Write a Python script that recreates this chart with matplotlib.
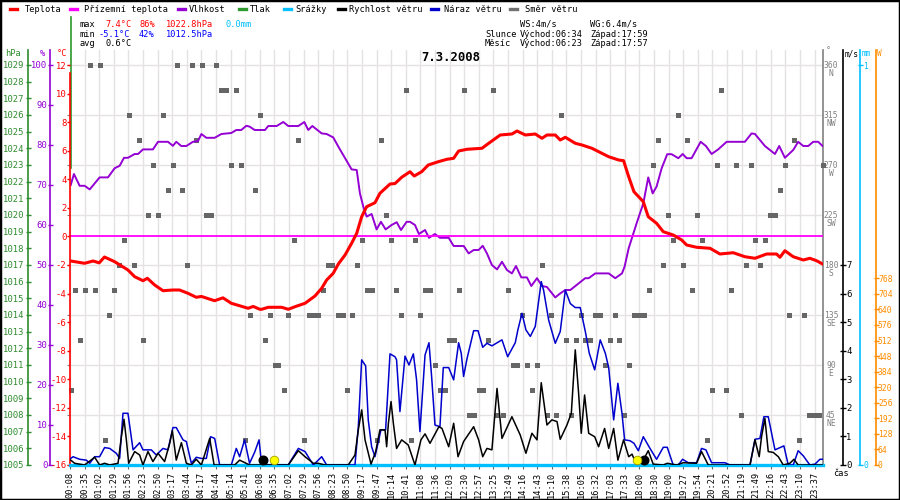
import matplotlib.pyplot as plt
from matplotlib.lines import Line2D
from matplotlib.patches import Rectangle

plt.rcParams['font.family'] = ['DejaVu Sans Mono']

# ===========================================================
# Data (x = position in label slots, 0 = first label 00:08)
# ===========================================================

time_labels = ['00:08', '00:35', '01:02', '01:29', '01:56', '02:23', '02:50', '03:17',
               '03:44', '04:17', '04:44', '05:14', '05:41', '06:08', '06:35', '07:02',
               '07:29', '07:56', '08:23', '08:50', '09:17', '09:47', '10:14', '10:41',
               '11:08', '11:36', '12:03', '12:30', '12:57', '13:25', '13:49', '14:16',
               '14:43', '15:10', '15:38', '16:05', '16:32', '17:03', '17:33', '18:00',
               '18:30', '19:00', '19:27', '19:54', '20:21', '20:52', '21:19', '21:49',
               '22:16', '22:43', '23:10', '23:37']

temp_x = [0.05, 1.0, 1.58, 2.0, 2.36, 3.06, 3.97, 4.43, 5.0, 5.3, 5.8, 6.37, 7.05, 7.5,
          8.08, 8.65, 9.0, 9.9, 10.48, 11.05, 12.2, 12.55, 13.0, 13.13, 13.58, 14.5, 14.95,
          15.41, 16.1, 16.78, 17.24, 17.58, 18.03, 18.38, 18.84, 19.29, 19.64, 19.98, 20.32,
          20.89, 21.23, 21.92, 22.26, 22.72, 23.29, 23.58, 24.09, 24.54, 25.23, 25.82, 26.28,
          26.62, 27.19, 28.22, 28.68, 29.47, 30.27, 30.62, 31.19, 31.87, 32.33, 32.67, 33.24,
          33.58, 33.93, 34.61, 35.07, 35.75, 36.9, 37.58, 37.92, 38.27, 38.63, 39.27, 39.61,
          40.18, 40.64, 41.32, 41.9, 42.24, 42.92, 43.84, 44.52, 45.43, 46.23, 46.92, 47.72,
          48.4, 48.63, 48.97, 49.54, 50.23, 50.68, 51.14, 51.55]
temp_c = [-1.72, -1.88, -1.72, -1.85, -1.44, -1.77, -2.35, -2.82, -3.1, -2.93, -3.4, -3.8,
          -3.75, -3.75, -3.98, -4.26, -4.2, -4.5, -4.3, -4.68, -5.03, -4.9, -5.1, -5.1, -4.96,
          -4.96, -5.1, -4.92, -4.68, -4.17, -3.63, -3.05, -2.58, -1.93, -1.3, -0.48, 0.22,
          1.38, 2.08, 2.36, 3.02, 3.67, 3.7, 4.14, 4.53, 4.23, 4.53, 5.0, 5.23, 5.4, 5.47,
          5.98, 6.1, 6.17, 6.52, 7.1, 7.17, 7.38, 7.1, 7.17, 6.87, 7.1, 7.1, 6.75, 6.94, 6.52,
          6.4, 6.17, 5.58, 5.35, 5.3, 4.18, 3.13, 2.43, 1.38, 0.92, 0.33, 0.1, -0.25, -0.6,
          -0.76, -0.83, -1.23, -1.14, -1.42, -1.53, -1.23, -1.23, -1.46, -1.0, -1.42, -1.65,
          -1.53, -1.7, -1.93]

ground_x = [0.0, 51.58]
ground_c = [0.0, 0.0]

hum_x = [0.05, 0.27, 0.66, 1.0, 1.35, 2.03, 2.6, 3.06, 3.4, 3.7, 3.97, 4.43, 4.66, 5.0, 5.68,
         6.03, 6.71, 7.05, 7.28, 7.62, 7.97, 8.42, 8.77, 9.0, 9.34, 9.91, 10.37, 11.05, 11.39,
         11.73, 12.08, 12.3, 12.65, 13.36, 13.58, 14.16, 14.61, 14.95, 15.64, 16.05, 16.32,
         16.6, 17.24, 17.58, 18.03, 18.38, 18.84, 19.29, 19.64, 19.86, 20.09, 20.32, 20.66,
         21.0, 21.3, 21.62, 22.03, 22.38, 22.67, 23.06, 23.29, 23.63, 23.9, 24.32, 24.59, 25.0,
         25.34, 25.94, 26.28, 26.97, 27.31, 27.65, 27.99, 28.27, 28.56, 28.9, 29.25, 29.59,
         29.93, 30.27, 30.55, 30.91, 31.3, 31.6, 31.99, 32.33, 32.67, 33.24, 33.58, 33.93,
         34.27, 34.84, 35.29, 35.53, 35.98, 36.9, 37.35, 37.81, 37.99, 38.27, 38.81, 39.27,
         39.61, 39.91, 40.18, 40.53, 40.91, 41.21, 41.67, 41.97, 42.24, 42.58, 43.2, 43.56,
         43.95, 44.4, 44.98, 46.23, 46.69, 46.92, 47.6, 48.29, 48.58, 48.97, 49.54, 49.88,
         50.23, 50.57, 50.91, 51.25, 51.55]
hum_pct = [70, 72.75, 69.8, 69.8, 68.9, 71.9, 71.9, 74.2, 74.8, 76.8, 76.8, 77.75, 77.75,
           78.9, 78.9, 80.8, 80.8, 79.8, 80.8, 79.75, 79.75, 80.8, 81.0, 82.75, 81.8, 81.8,
           82.75, 83.0, 83.75, 83.75, 84.8, 84.6, 83.75, 83.75, 84.75, 84.75, 85.75, 84.75,
           84.75, 85.75, 83.75, 84.75, 82.9, 82.75, 81.9, 79.6, 76.7, 73.9, 73.75, 67.9, 64.6,
           62.1, 62.75, 58.9, 60.8, 58.9, 60, 60.7, 58.75, 60.8, 60.8, 60, 57.75, 58.75, 56.8,
           57.75, 56.8, 56.8, 54.75, 54.75, 52.9, 53.75, 53.75, 54.8, 52.9, 50, 48.9, 50.8,
           48.75, 47.9, 49.75, 46.9, 46.9, 44.75, 46.7, 44.75, 44.5, 41.9, 42.9, 43.75, 43.75,
           45.4, 46.7, 46.7, 47.9, 47.9, 46.7, 47.9, 49.6, 54.2, 60.4, 65.4, 71.9, 67.9, 69.6,
           74.2, 77.7, 77.7, 76.7, 77.75, 76.7, 76.7, 80.8, 79.75, 77.75, 78.9, 80.8, 80.8,
           82.9, 82.75, 79.75, 77.75, 79.75, 76.8, 78.75, 80.8, 79.75, 79.75, 80.8, 80.8, 79.75]

pressure_x = [0.07, 0.07]
pressure_hpa = [1022.8, 1031.9]

rain_x = [0.0, 51.58]
rain_mm = [0.0, 0.0]

wind_x = [0.05, 0.32, 1.0, 1.69, 2.03, 2.37, 2.72, 3.29, 3.52, 3.7, 3.86, 4.02, 4.43, 4.77,
          5.0, 5.34, 5.68, 6.03, 6.48, 6.83, 7.01, 7.28, 7.63, 7.97, 8.31, 8.65, 9.0, 9.57,
          9.87, 11.28, 11.62, 12.3, 14.95, 15.64, 16.1, 16.67, 17.0, 17.47, 19.06, 19.52,
          19.75, 19.98, 20.21, 20.62, 20.94, 21.23, 21.58, 21.69, 21.81, 21.99, 22.15, 22.37,
          22.72, 23.17, 23.63, 24.04, 24.32, 24.66, 25.27, 25.48, 25.94, 26.28, 26.58, 26.96,
          27.65, 27.99, 28.27, 28.56, 28.9, 29.25, 29.59, 30.27, 30.84, 31.23, 31.64, 31.99,
          32.28, 32.67, 33.01, 33.36, 33.58, 34.04, 34.34, 34.61, 34.84, 35.02, 35.25, 35.53,
          35.94, 36.21, 36.62, 36.9, 37.24, 37.53, 37.92, 38.27, 38.5, 38.81, 39.27, 39.61,
          39.95, 40.64, 40.91, 41.55, 42.01, 42.92, 43.26, 43.72, 46.58, 46.92, 47.21, 47.37,
          47.6, 47.83, 48.17, 48.52, 48.86, 49.31, 49.59, 49.88, 51.55]
wind_ms = [0.17, 0.06, 0, 0.27, 0, 0.06, 0, 0.06, 0.99, 1.6, 0.88, 0.06, 0.47, 0.35, 0, 0.47,
           0.12, 0.41, 0.12, 0.76, 1.2, 0.17, 0.78, 0.06, 0, 0.2, 0, 0.93, 0, 0, 0.17, 0, 0,
           0.5, 0.29, 0.06, 0.06, 0, 0, 0.35, 1.23, 1.93, 0.88, 0.03, 0.47, 1.23, 1.23, 0.64,
           1.46, 2.22, 1.46, 0.58, 0.88, 0.7, 0, 0.88, 1.09, 0.76, 1.34, 1.28, 0.64, 1.46, 0.29,
           0.82, 1.34, 0.88, 0.29, 0.58, 0.53, 2.68, 0.93, 1.69, 1.05, 0.41, 1.11, 0.88, 2.88,
           1.4, 1.58, 1.52, 0.9, 1.4, 1.81, 4.03, 2.51, 1.11, 2.45, 1.11, 0.99, 0.64, 1.28,
           0.58, 1.28, 0.17, 0.88, 0.29, 0.38, 0, 0.17, 0.5, 0.03, 0, 0.06, 0, 0.08, 0.06, 0.47,
           0, 0, 0.88, 0.29, 0.99, 1.63, 0.47, 0.44, 0.29, 0, 0.06, 0.2, 0, 0]

gust_x = [0.05, 0.21, 0.66, 1.12, 1.35, 1.69, 2.03, 2.37, 2.72, 3.17, 3.4, 3.63, 3.97, 4.32,
          4.77, 5.0, 5.57, 5.91, 6.37, 6.71, 7.05, 7.28, 7.74, 7.97, 8.31, 8.65, 9.0, 9.34,
          9.63, 9.91, 10.25, 11.05, 11.39, 11.62, 11.96, 12.3, 12.65, 12.95, 13.13, 14.95,
          15.64, 16.1, 16.67, 17.24, 17.58, 19.52, 19.75, 19.98, 20.25, 20.43, 20.66, 20.89,
          21.3, 21.62, 21.92, 22.26, 22.37, 22.6, 22.95, 23.22, 23.52, 23.74, 23.97, 24.32,
          24.59, 24.77, 25.0, 25.34, 25.57, 25.94, 26.28, 26.62, 26.8, 26.96, 27.19, 27.65,
          27.95, 28.27, 28.56, 28.9, 29.59, 29.98, 30.5, 30.68, 30.96, 31.23, 31.53, 31.87,
          32.28, 32.44, 32.79, 33.24, 33.58, 33.93, 34.27, 34.61, 34.95, 35.3, 35.57, 35.94,
          36.32, 36.67, 36.9, 37.24, 37.53, 37.81, 37.99, 38.36, 38.63, 38.93, 39.27, 39.73,
          40.18, 40.64, 40.91, 41.32, 41.67, 41.96, 42.35, 42.92, 43.26, 43.56, 43.95, 44.86,
          45.21, 46.58, 46.92, 47.26, 47.53, 47.83, 48.29, 48.9, 49.2, 49.54, 49.88, 50.23,
          50.68, 51.03, 51.37, 51.55]
gust_ms = [0.23, 0.29, 0.2, 0.17, 0.06, 0.29, 0.29, 0.61, 0.58, 0.41, 0.23, 1.81, 1.81, 0.53,
           0.78, 0.53, 0.53, 0.35, 0.58, 0.53, 1.31, 1.31, 0.88, 0.82, 0.06, 0.27, 0.23, 0.23,
           0.99, 0.93, 0, 0, 0.58, 0.29, 0.88, 0.06, 0.45, 0.88, 0, 0, 0.58, 0.47, 0, 0.29, 0,
           0, 1.34, 3.68, 3.47, 1.58, 0.64, 0.29, 1.23, 1.23, 3.89, 3.79, 3.68, 1.87, 3.81, 3.5,
           3.89, 2.98, 1.17, 3.85, 4.28, 3.1, 1.4, 1.34, 3.41, 3.41, 2.98, 4.28, 3.91, 3.1,
           3.71, 4.7, 4.7, 4.12, 4.26, 4.17, 4.38, 3.79, 4.28, 4.73, 5.31, 4.73, 4.5, 4.85,
           6.42, 6.12, 5.07, 4.26, 4.67, 6.12, 5.65, 5.51, 5.51, 4.67, 3.91, 3.33, 4.38, 3.91,
           3.41, 1.58, 2.86, 1.81, 0.88, 0.85, 0.76, 0.5, 0.99, 0.58, 0.2, 0.62, 0.62, 0, 0,
           0.2, 0.08, 0.08, 0.58, 0.53, 0.08, 0.08, 0, 0, 0.9, 0.93, 1.69, 1.69, 0.53, 0.67, 0,
           0, 0.5, 0.32, 0, 0.03, 0.2, 0.2]

dir_x = [0.05, 0.32, 0.66, 1.0, 1.35, 1.69, 2.03, 2.37, 2.65, 3.01, 3.33, 3.7, 4.02, 4.38,
         4.7, 5.0, 5.34, 5.68, 6.03, 6.37, 6.71, 7.05, 7.33, 7.67, 8.01, 8.36, 8.65, 9.02,
         9.34, 9.63, 9.98, 10.32, 10.66, 11.01, 11.35, 11.69, 12.0, 12.31, 12.65, 13.01, 13.36,
         13.7, 14.04, 14.27, 14.66, 14.95, 15.36, 15.64, 16.05, 16.37, 16.67, 16.96, 17.35,
         17.65, 17.97, 18.33, 18.68, 18.95, 19.29, 19.64, 19.98, 20.32, 20.66, 21.0, 21.3,
         21.62, 21.99, 22.33, 22.67, 23.01, 23.36, 23.63, 23.97, 24.32, 24.66, 25.0, 25.34,
         25.68, 25.98, 26.3, 26.62, 26.99, 27.35, 27.67, 27.99, 28.31, 28.63, 28.95, 29.27,
         29.64, 30.0, 30.32, 30.62, 30.96, 31.3, 31.64, 31.99, 32.33, 32.67, 32.97, 33.29,
         33.63, 33.97, 34.32, 34.66, 35.0, 35.3, 35.62, 35.96, 36.3, 36.64, 36.99, 37.33,
         37.62, 37.95, 38.27, 38.63, 38.97, 39.32, 39.66, 39.93, 40.27, 40.59, 40.96, 41.28,
         41.64, 41.97, 42.28, 42.6, 42.97, 43.29, 43.63, 43.97, 44.32, 44.61, 44.93, 45.27,
         45.62, 45.96, 46.3, 46.64, 46.92, 47.26, 47.6, 47.95, 48.29, 48.63, 48.97, 49.25,
         49.59, 49.93, 50.27, 50.62, 50.96, 51.3, 51.58]
dir_deg = [67.5, 157.5, 112.5, 157.5, 360, 157.5, 360, 22.5, 135, 157.5, 180, 202.5, 315, 180,
           292.5, 112.5, 225, 270, 225, 315, 247.5, 270, 360, 247.5, 180, 360, 292.5, 360, 225,
           225, 360, 337.5, 337.5, 270, 337.5, 270, 22.5, 135, 247.5, 315, 112.5, 135, 90, 90,
           67.5, 135, 202.5, 292.5, 22.5, 135, 135, 135, 157.5, 180, 180, 135, 135, 67.5, 135,
           180, 202.5, 157.5, 157.5, 22.5, 292.5, 225, 202.5, 157.5, 135, 337.5, 22.5, 202.5,
           135, 157.5, 157.5, 90, 67.5, 67.5, 112.5, 112.5, 157.5, 337.5, 45, 45, 67.5, 67.5,
           112.5, 337.5, 45, 45, 157.5, 90, 90, 135, 90, 67.5, 90, 180, 45, 135, 45, 315, 112.5,
           45, 112.5, 135, 112.5, 112.5, 135, 135, 90, 112.5, 135, 112.5, 45, 90, 135, 135, 135,
           157.5, 270, 292.5, 180, 225, 202.5, 315, 180, 292.5, 157.5, 225, 202.5, 22.5, 67.5,
           270, 337.5, 67.5, 157.5, 270, 45, 180, 270, 202.5, 180, 202.5, 225, 225, 247.5, 270,
           135, 292.5, 22.5, 135, 45, 45, 45, 270]

moon_x = [13.24, 39.32]   # rise 06:23, set 17:57
sun_x = [13.99, 38.82]    # rise 06:34, set 17:59

# ===========================================================
# Figure and axes
# ===========================================================

fig = plt.figure(figsize=(9, 5), dpi=100)
X_MAX = 51.58
ax_dir = fig.add_axes([70 / 900, 35 / 500, 753 / 900, 415 / 500])
ax_dir.set_xlim(0, X_MAX)


def frac(px):
    # pixel column -> axes fraction
    return (px - 70) / 753


def style_axis(a, side, px, color, ticks, labels, tickdir, length, pad, size, lw=1.2):
    for s in a.spines.values():
        s.set_visible(False)
    sp = a.spines[side]
    sp.set_visible(True)
    sp.set_position(('axes', frac(px)))
    sp.set_color(color)
    sp.set_linewidth(lw)
    a.yaxis.set_ticks_position(side)
    a.set_yticks(ticks)
    a.set_yticklabels(labels)
    a.tick_params(axis='y', colors=color, direction=tickdir, length=length, width=1,
                  pad=pad, labelsize=size)


# direction axis (base, with grid)
ax_dir.set_ylim(0, 373.5)
for s in ax_dir.spines.values():
    s.set_visible(False)
ax_dir.spines['right'].set_visible(True)
ax_dir.spines['right'].set_color('#808080')
ax_dir.spines['right'].set_linewidth(1.2)
ax_dir.spines['bottom'].set_visible(True)
ax_dir.spines['bottom'].set_color('black')
ax_dir.set_yticks(range(0, 361, 45))
ax_dir.yaxis.set_ticks_position('right')
ax_dir.tick_params(axis='y', colors='#808080', length=2, labelright=False)
ax_dir.set_xticks(range(len(time_labels)))
ax_dir.set_xticklabels(time_labels, rotation=90, fontsize=6.2)
ax_dir.tick_params(axis='x', length=3, color='#666666', pad=2)
ax_dir.grid(True, color='#e6e2e2', lw=1)
ax_dir.set_axisbelow(True)
compass = ['NE', 'E', 'SE', 'S', 'SW', 'W', 'NW', 'N']
for i, deg in enumerate(range(45, 361, 45)):
    ax_dir.annotate(str(deg), xy=(1, deg), xycoords=('axes fraction', 'data'),
                    xytext=(8, 0), textcoords='offset pixels', ha='center', va='center',
                    fontsize=5.8, color='#808080', annotation_clip=False)
    ax_dir.annotate(compass[i], xy=(1, deg), xycoords=('axes fraction', 'data'),
                    xytext=(8, -8), textcoords='offset pixels', ha='center', va='center',
                    fontsize=5.8, color='#808080', annotation_clip=False)
ax_dir.plot(dir_x, dir_deg, 's', color='#666666', ms=3.6, mew=0, clip_on=False, zorder=3)

# pressure
ax_hpa = ax_dir.twinx()
ax_hpa.set_ylim(1005, 1005 + 24 * 415 / 400)
style_axis(ax_hpa, 'left', 28, '#2e8b2e', range(1005, 1030), [str(v) for v in range(1005, 1030)],
           'inout', 3.6, 0.4, 6.4)
ax_hpa.plot(pressure_x, pressure_hpa, color='#2e9a2e', lw=1.2, clip_on=False)

# humidity
ax_hum = ax_dir.twinx()
ax_hum.set_ylim(0, 100 * 415 / 400)
style_axis(ax_hum, 'left', 50, '#9400d3', range(0, 101, 10), [str(v) for v in range(0, 101, 10)],
           'inout', 3.6, 0.0, 6.4)
ax_hum.plot(hum_x, hum_pct, color='#9400d3', lw=1.4)

# temperature
ax_t = ax_dir.twinx()
ax_t.set_ylim(-16, -16 + 28 * 415 / 400)
style_axis(ax_t, 'left', 70, '#ff0000', range(-16, 13, 2), [str(v) for v in range(-16, 13, 2)],
           'out', 2.2, 0.2, 6.4)
ax_t.spines['left'].set_bounds(-16, 11.45)
ax_t.plot(ground_x, ground_c, color='#ff00ff', lw=1.3)
ax_t.plot(temp_x, temp_c, color='#ff0000', lw=2.2)

# solar radiation
ax_sol = ax_dir.twinx()
ax_sol.set_ylim(0, 1707)
style_axis(ax_sol, 'right', 875.5, '#ff8c00', range(0, 769, 64), [str(v) for v in range(0, 769, 64)],
           'inout', 3.6, 0.0, 5.8)

# rain
ax_mm = ax_dir.twinx()
ax_mm.set_ylim(0, 415 / 400)
style_axis(ax_mm, 'right', 860, '#00bfff', [0, 1], ['0', '1'], 'inout', 3.6, 0.4, 5.8)
ax_mm.plot(rain_x, rain_mm, color='#00bfff', lw=2.4, clip_on=False)

# wind
ax_w = ax_dir.twinx()
ax_w.set_ylim(0, 7 * 415 / 200)
style_axis(ax_w, 'right', 843, 'black', range(0, 8), [str(v) for v in range(0, 8)],
           'inout', 4.3, 0.1, 6.4)
ax_w.plot(gust_x, gust_ms, color='#0000cc', lw=1.1)
ax_w.plot(wind_x, wind_ms, color='black', lw=1.1)
ax_w.plot(moon_x, [0.17] * len(moon_x), 'o', color='black', ms=6.2, zorder=5)
ax_w.plot(sun_x, [0.17] * len(sun_x), 'o', mfc='#ffff00', mec='#a0a000', mew=0.6, ms=6.2, zorder=5)

for a in (ax_hpa, ax_hum, ax_t, ax_sol, ax_mm, ax_w):
    a.set_xlim(0, X_MAX)
    a.tick_params(axis='x', bottom=False, labelbottom=False, top=False)


# ===========================================================
# Header texts and legend
# ===========================================================

def ftext(px, py, s, color='black', **kw):
    fig.text(px / 900, 1 - py / 500, s, color=color, va='center', ha='left', **kw)


legend_items = [('Teplota', '#ff0000', 10, 25), ('Přízemní teplota', '#ff00ff', 70, 84),
                ('Vlhkost', '#9400d3', 178, 189), ('Tlak', '#2e9a2e', 239, 250),
                ('Srážky', '#00bfff', 284, 295), ('Rychlost větru', 'black', 338, 349),
                ('Náraz větru', '#0000cc', 431, 444), ('Směr větru', '#707070', 510, 525)]
for name, col, mx, tx in legend_items:
    fig.add_artist(Line2D([mx / 900, (mx + 7) / 900], [1 - 9.3 / 500] * 2, color=col, lw=2.4,
                          transform=fig.transFigure))
    ftext(tx, 9.3, name, fontsize=6.2)

ftext(80, 24.3, 'max', fontsize=6.2)
ftext(105, 24.3, '7.4°C', '#ff0000', fontsize=6.2)
ftext(139, 24.3, '86%', '#ff0000', fontsize=6.2)
ftext(166, 24.3, '1022.8hPa', '#ff0000', fontsize=6.2)
ftext(226, 24.3, '0.0mm', '#00bfff', fontsize=6.2)
ftext(80, 34.3, 'min', fontsize=6.2)
ftext(99, 34.3, '-5.1°C', '#0000ff', fontsize=6.2)
ftext(139, 34.3, '42%', '#0000ff', fontsize=6.2)
ftext(166, 34.3, '1012.5hPa', '#0000ff', fontsize=6.2)
ftext(80, 43.7, 'avg', fontsize=6.2)
ftext(105, 43.7, '0.6°C', fontsize=6.2)

ftext(520, 24.3, 'WS:4m/s', fontsize=6.2)
ftext(590, 24.3, 'WG:6.4m/s', fontsize=6.2)
ftext(485, 34.3, 'Slunce', fontsize=6.2)
ftext(520, 34.3, 'Východ:06:34', fontsize=6.2)
ftext(590, 34.3, 'Západ:17:59', fontsize=6.2)
ftext(485, 43.7, 'Měsíc', fontsize=6.2)
ftext(520, 43.7, 'Východ:06:23', fontsize=6.2)
ftext(590, 43.7, 'Západ:17:57', fontsize=6.2)

ftext(421, 57.3, '7.3.2008', fontsize=8.8, fontweight='bold')

ftext(5, 54, 'hPa', '#2e8b2e', fontsize=6.2)
ftext(40, 54, '%', '#9400d3', fontsize=6.2)
ftext(57, 54, '°C', '#ff0000', fontsize=6.2)
ftext(826, 51, '°', '#808080', fontsize=6)
ftext(845, 54, 'm/s', 'black', fontsize=5.6)
ftext(862, 54, 'mm', '#00bfff', fontsize=5.6)
ftext(877, 54, 'W', '#ff8c00', fontsize=5.6)
ftext(833, 474, 'čas', 'black', fontsize=6.2)

fig.add_artist(Rectangle((0, 0), 1, 1, transform=fig.transFigure, fill=False,
                         ec='black', lw=2.5))

fig.savefig('out.png', dpi=100)
